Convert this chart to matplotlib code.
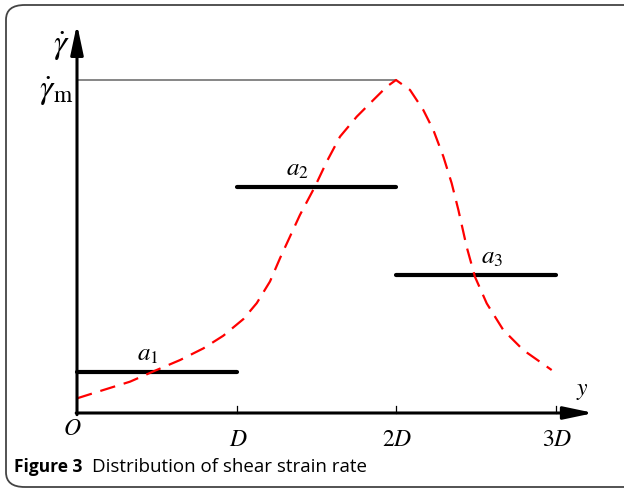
import matplotlib
matplotlib.use("Agg")
import matplotlib.pyplot as plt
from matplotlib.patches import FancyBboxPatch

plt.rcParams['mathtext.fontset'] = 'stix'

# Data (y in units of D, rate in units of gamma_m)
curve_y = [0.0, 0.165, 0.332, 0.489, 0.646, 0.792, 0.917, 1.043, 1.127, 1.21,
           1.273, 1.398, 1.492, 1.566, 1.649, 1.754, 1.858, 1.942, 2.0,
           2.088, 2.171, 2.234, 2.297, 2.349, 2.391, 2.443, 2.495, 2.569,
           2.673, 2.798, 2.976]
curve_rate = [0.044, 0.069, 0.094, 0.127, 0.159, 0.194, 0.232, 0.282, 0.330, 0.395,
              0.465, 0.595, 0.680, 0.755, 0.830, 0.890, 0.940, 0.980, 1.0,
              0.970, 0.910, 0.850, 0.770, 0.690, 0.610, 0.499, 0.409, 0.329,
              0.249, 0.189, 0.129]
bar_start = [0, 1, 2]
bar_end = [1, 2, 3]
bar_level = [0.123, 0.679, 0.414]
bar_labels = [r'$a_{\mathrm{1}}$', r'$a_{\mathrm{2}}$', r'$a_{\mathrm{3}}$']
tick_pos = [1, 2, 3]
tick_labels = [r'$D$', r'$2D$', r'$3D$']
gamma_m = 1.0

# layout: horizontal offsets of bar labels from bar centres
label_dx = [-0.055, -0.115, 0.10]

fig = plt.figure(figsize=(6.24, 4.90), dpi=100)
ax = fig.add_axes([0, 0, 1, 1])
ax.set_xlim(-77 / 159.5, (624 - 77) / 159.5)
ax.set_ylim(-77 / 333, 413 / 333)
ax.axis('off')

# frame
frame = FancyBboxPatch((6 / 624, 3 / 490), 640 / 624, 482 / 490,
                       boxstyle='round,pad=0,rounding_size=0.03',
                       transform=fig.transFigure, fill=False,
                       edgecolor='#444444', lw=1.3, clip_on=False)
fig.patches.append(frame)

# axes arrows
ax.annotate('', xy=(3.24, 0), xytext=(-0.005, 0),
            arrowprops=dict(arrowstyle='-|>,head_length=1.8,head_width=0.38',
                            lw=2.2, color='k', shrinkA=0, shrinkB=0))
ax.annotate('', xy=(0, 1.168), xytext=(0, -0.005),
            arrowprops=dict(arrowstyle='-|>,head_length=1.8,head_width=0.38',
                            lw=2.2, color='k', shrinkA=0, shrinkB=0))

# ticks
for t in tick_pos:
    ax.plot([t, t], [0, 0.022], color='k', lw=0.9)
for t, lab in zip(tick_pos, tick_labels):
    ax.text(t + 0.01, -0.078, lab, ha='center', va='center', fontsize=17)
ax.text(-0.03, -0.045, r'$O$', ha='center', va='center', fontsize=17)
ax.text(3.17, 0.07, r'$y$', ha='center', va='center', fontsize=17)

# gamma_m reference line
ax.plot([0, 2], [gamma_m, gamma_m], color='#666666', lw=1.1)
ax.text(-0.10, 1.10, r'$\dot{\gamma}$', ha='center', va='center', fontsize=24)
ax.text(-0.13, 0.965, r'$\dot{\gamma}_{\mathrm{m}}$', ha='center', va='center', fontsize=24)

# bars
for s, e, lv, lab, dx in zip(bar_start, bar_end, bar_level, bar_labels, label_dx):
    ax.plot([s, e], [lv, lv], color='k', lw=3, solid_capstyle='round')
    ax.text((s + e) / 2 + dx, lv + 0.055, lab, ha='center', va='center', fontsize=18)

# curve
ax.plot(curve_y, curve_rate, color='#ff0000', lw=1.6, dashes=(7, 4))

# caption
fig.text(14 / 624, 1 - 467 / 490, 'Figure 3', fontsize=12.5, fontweight='bold',
         family='Open Sans', va='center', ha='left')
fig.text(92 / 624, 1 - 467 / 490, 'Distribution of shear strain rate', fontsize=13.5,
         family='Open Sans', va='center', ha='left')

fig.savefig('out.png', dpi=100)
